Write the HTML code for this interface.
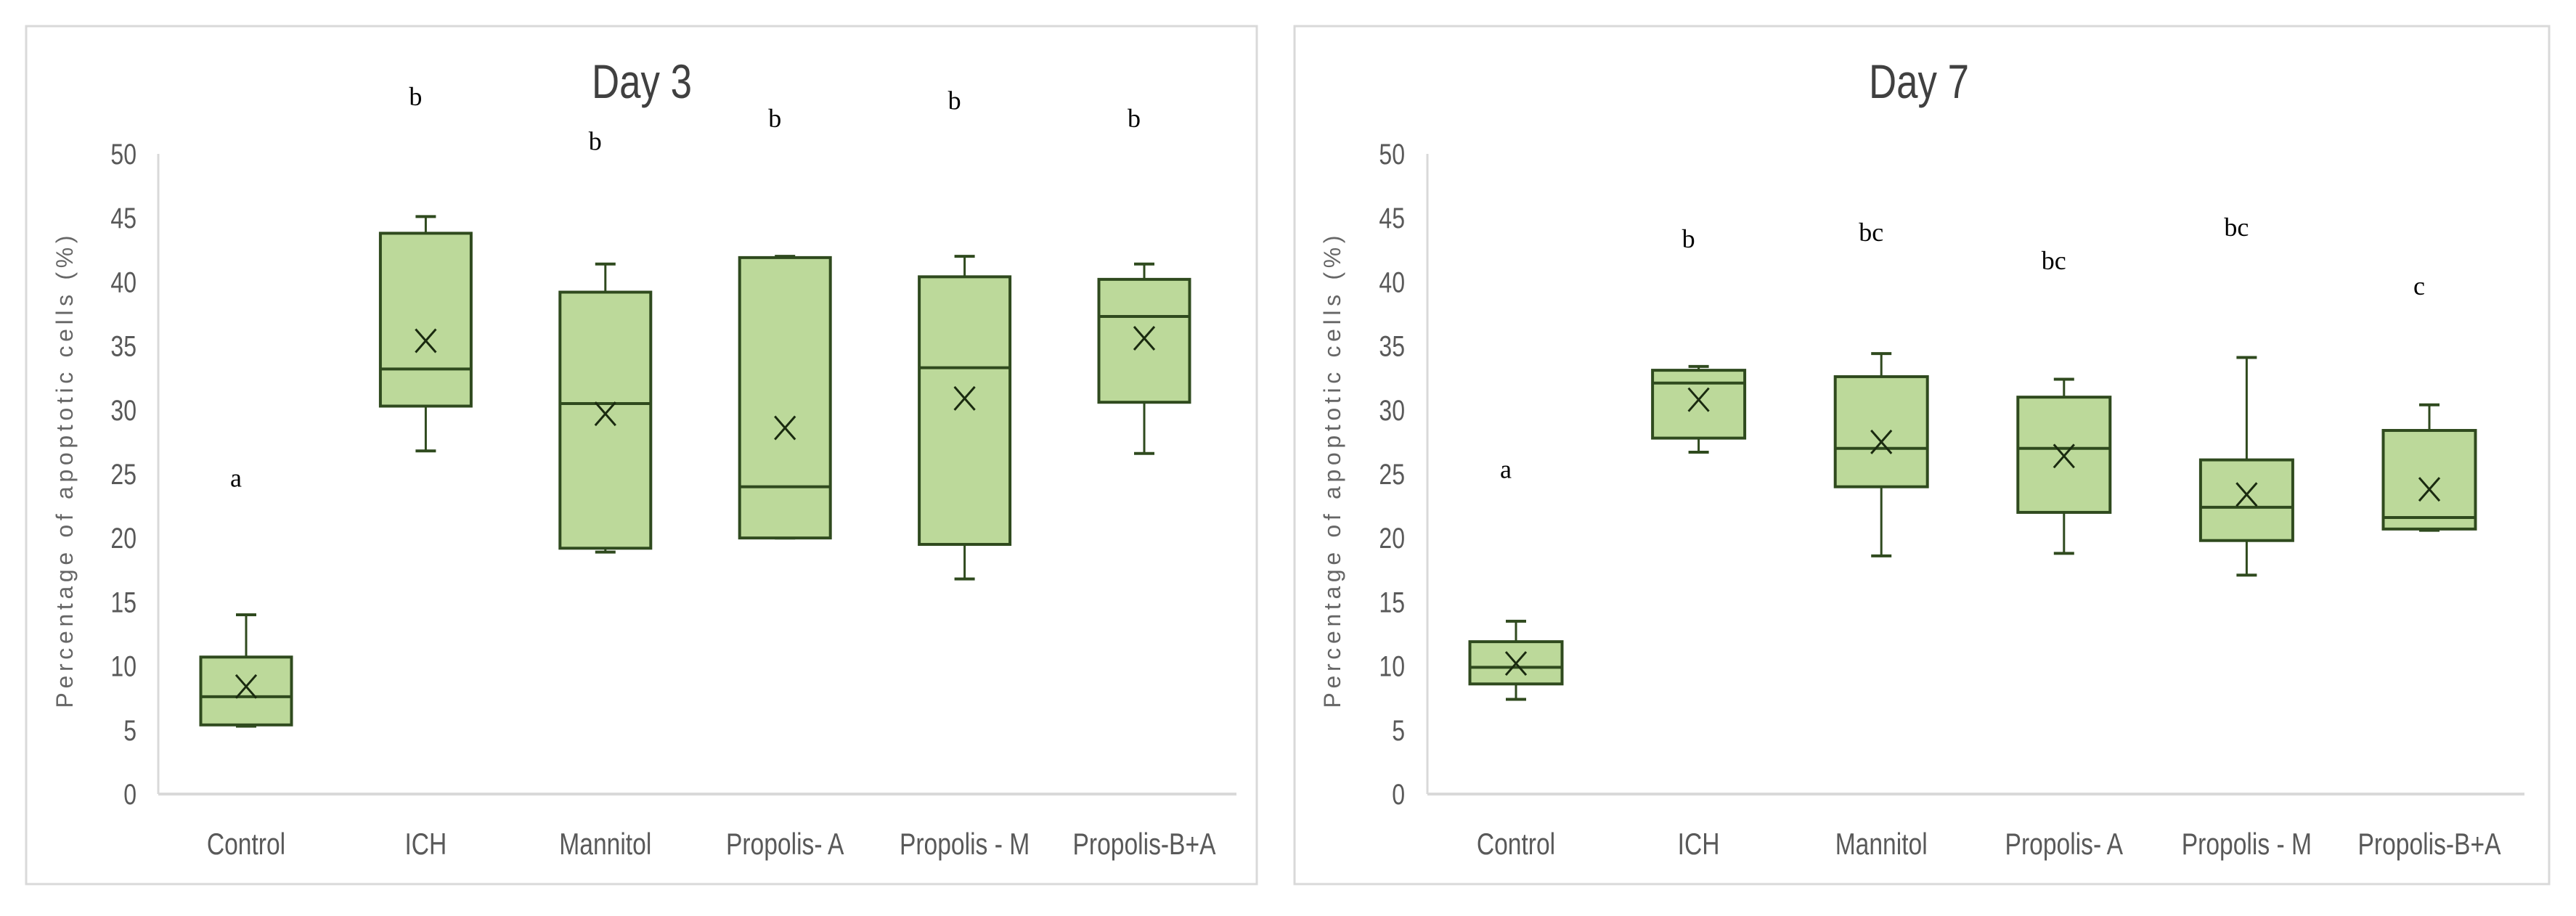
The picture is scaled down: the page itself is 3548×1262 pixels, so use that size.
<!DOCTYPE html>
<html><head><meta charset="utf-8"><style>
html,body{margin:0;padding:0;background:#fff;}
svg{display:block;}
.tick{font-family:"Liberation Sans Narrow","Liberation Sans",sans-serif;font-size:40px;fill:#595959;}
.cat{font-family:"Liberation Sans Narrow","Liberation Sans",sans-serif;font-size:42px;fill:#595959;}
.ttl{font-family:"Liberation Sans Narrow","Liberation Sans",sans-serif;font-size:66px;fill:#404040;}
.yt{font-family:"Liberation Sans","Liberation Sans Narrow",sans-serif;font-size:32px;fill:#666;}
.let{font-family:"Liberation Serif",serif;font-size:36px;fill:#000;}
</style></head><body>
<svg id="fig" width="3548" height="1262" viewBox="0 0 3548 1262" xmlns="http://www.w3.org/2000/svg"></svg>
<script>
const categories=["Control","ICH","Mannitol","Propolis- A","Propolis - M","Propolis-B+A"];
const yTicks=[0,5,10,15,20,25,30,35,40,45,50];
// Day 3
const d3Min=[5.3,26.8,18.9,20.0,16.8,26.6];
const d3Q1=[5.4,30.3,19.2,20.0,19.5,30.6];
const d3Med=[7.6,33.2,30.5,24.0,33.3,37.3];
const d3Q3=[10.7,43.8,39.2,41.9,40.4,40.2];
const d3Max=[14.0,45.1,41.4,42.0,42.0,41.4];
const d3Mean=[8.4,35.4,29.7,28.6,30.9,35.6];
const d3Letters=["a","b","b","b","b","b"];
const d3LetterY=[24.0,53.8,50.3,52.1,53.5,52.1];
// Day 7
const d7Min=[7.4,26.7,18.6,18.8,17.1,20.6];
const d7Q1=[8.6,27.8,24.0,22.0,19.8,20.7];
const d7Med=[9.9,32.1,27.0,27.0,22.4,21.6];
const d7Q3=[11.9,33.1,32.6,31.0,26.1,28.4];
const d7Max=[13.5,33.4,34.4,32.4,34.1,30.4];
const d7Mean=[10.2,30.8,27.5,26.4,23.4,23.8];
const d7Letters=["a","b","bc","bc","bc","c"];
const d7LetterY=[24.7,42.7,43.2,41.0,43.6,39.0];

const NS="http://www.w3.org/2000/svg";
const svg=document.getElementById('fig');
function mk(tag,attrs,parent){const e=document.createElementNS(NS,tag);for(const k in attrs)e.setAttribute(k,attrs[k]);(parent||svg).appendChild(e);return e;}
function narrow(el,f){const w=el.getComputedTextLength();el.setAttribute('textLength',(w*f).toFixed(1));el.setAttribute('lengthAdjust','spacingAndGlyphs');}

function chart(o){
  const g=mk('g',{});
  
  
  const border=mk('rect',{x:o.px,y:36,width:o.pw,height:1182,fill:'#fff',stroke:'#d9d9d9','stroke-width':3},g);
  
  
  const y0=1094,y50=212;
  const yS=v=>y0-(v/50)*(y0-y50);
  const step=o.step;
  const xS=i=>o.x0+o.firstOff+i*step;
  const bw=o.bw;
  const t=mk('text',{x:o.titleX,y:135,'text-anchor':'middle',class:'ttl'},g);t.textContent=o.title;
  
  
  narrow(t,0.8);
  const ax=mk('line',{x1:o.x0,y1:y50,x2:o.x0,y2:y0,stroke:'#d9d9d9','stroke-width':3},g);
  
  
  const bx=mk('line',{x1:o.x0,y1:y0,x2:o.x1,y2:y0,stroke:'#d9d9d9','stroke-width':4},g);
  
  
  yTicks.forEach(v=>{const tt=mk('text',{x:o.tickX,y:yS(v)+14,'text-anchor':'end',class:'tick'},g);tt.textContent=v;
    
    
    narrow(tt,0.8);});
  const yt=mk('text',{x:0,y:0,'text-anchor':'middle',class:'yt',transform:`translate(${o.ytX},650) rotate(-90)`,textLength:651,lengthAdjust:'spacing'},g);
  yt.textContent='Percentage of apoptotic cells (%)';
  
  
  categories.forEach((c,i)=>{
    const x=xS(i);
    const cl=mk('text',{x:x,y:1177,'text-anchor':'middle',class:'cat'},g);cl.textContent=c;
    
    
    narrow(cl,0.8);
    const bg=mk('g',{},g);
    
    
    const st='#2f4a1e';
    mk('line',{x1:x,y1:yS(o.max[i]),x2:x,y2:yS(o.q3[i]),stroke:st,'stroke-width':3},bg);
    mk('line',{x1:x,y1:yS(o.min[i]),x2:x,y2:yS(o.q1[i]),stroke:st,'stroke-width':3},bg);
    mk('line',{x1:x-14,y1:yS(o.max[i]),x2:x+14,y2:yS(o.max[i]),stroke:st,'stroke-width':4},bg);
    mk('line',{x1:x-14,y1:yS(o.min[i]),x2:x+14,y2:yS(o.min[i]),stroke:st,'stroke-width':4},bg);
    mk('rect',{x:x-bw/2,y:yS(o.q3[i]),width:bw,height:yS(o.q1[i])-yS(o.q3[i]),fill:'#bcd99a',stroke:st,'stroke-width':4},bg);
    mk('line',{x1:x-bw/2,y1:yS(o.med[i]),x2:x+bw/2,y2:yS(o.med[i]),stroke:st,'stroke-width':4},bg);
    const my=yS(o.mean[i]);
    mk('path',{d:`M${x-14} ${my-16}L${x+14} ${my+16}M${x+14} ${my-16}L${x-14} ${my+16}`,stroke:'#1a2a10','stroke-width':3,fill:'none'},bg);
    const lt=mk('text',{x:x-14,y:yS(o.ly[i]),'text-anchor':'middle',class:'let'},g);lt.textContent=o.letters[i];
    
    
  });
}
chart({name:'day3-chart',title:'Day 3',px:36,pw:1695,x0:218,x1:1703,firstOff:121,step:247.4,bw:125,titleX:884,tickX:188,ytX:100,
  min:d3Min,q1:d3Q1,med:d3Med,q3:d3Q3,max:d3Max,mean:d3Mean,letters:d3Letters,ly:d3LetterY});
chart({name:'day7-chart',title:'Day 7',px:1783,pw:1728,x0:1966,x1:3477,firstOff:122,step:251.6,bw:127,titleX:2643,tickX:1935,ytX:1846,
  min:d7Min,q1:d7Q1,med:d7Med,q3:d7Q3,max:d7Max,mean:d7Mean,letters:d7Letters,ly:d7LetterY});
</script>
</body></html>
